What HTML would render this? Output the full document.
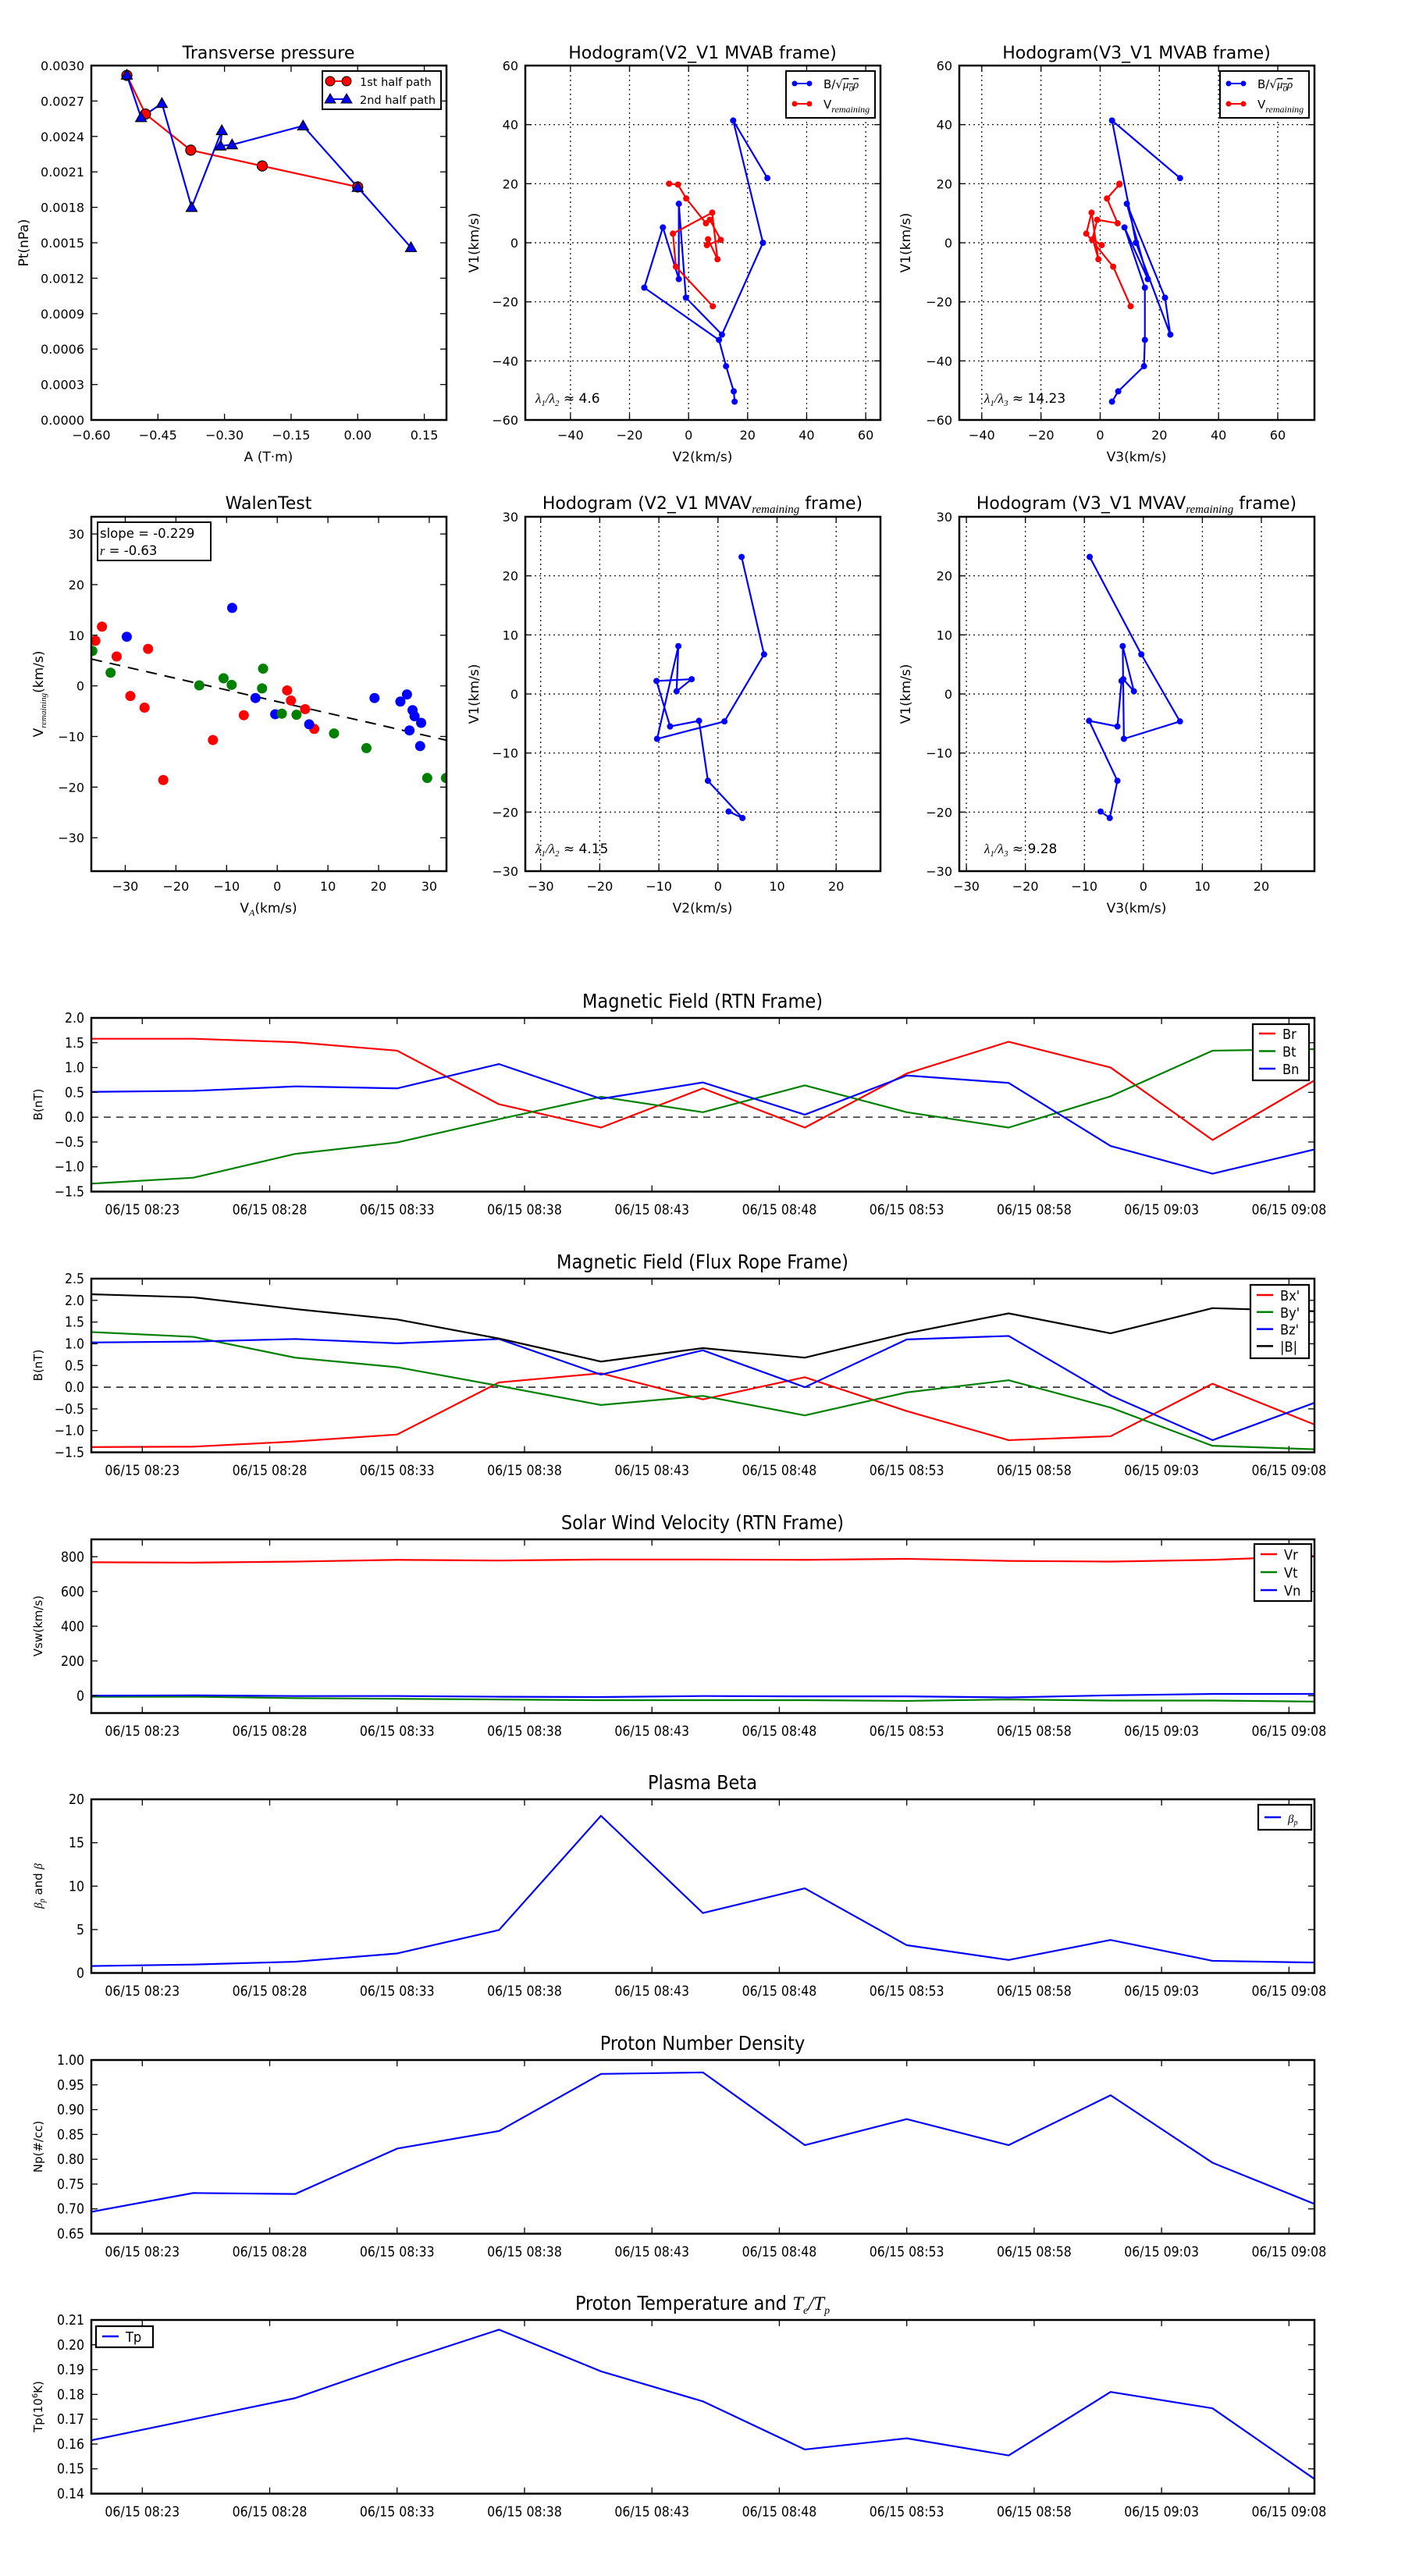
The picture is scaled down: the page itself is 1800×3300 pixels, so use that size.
<!DOCTYPE html>
<html><head><meta charset="utf-8"><title>Flux rope analysis figure</title>
<style>
html,body{margin:0;padding:0;background:#fff;}
svg{display:block;}
.n{font-family:"DejaVu Sans","Liberation Sans",sans-serif;}
.c{font-family:"Liberation Sans Narrow","DejaVu Sans Condensed","Liberation Sans",sans-serif;font-stretch:condensed;}
</style></head>
<body>
<svg id="fig" xmlns="http://www.w3.org/2000/svg" width="1800" height="3300" viewBox="0 0 1800 3300">
<rect x="0" y="0" width="1800" height="3300" fill="#fff"/>
</svg>
<script>
// ---------- DATA ----------
const ptA1=[-0.52,-0.478,-0.376,-0.215,0.0];
const ptP1=[0.002917,0.00259,0.002284,0.00215,0.001973];
const ptA2=[-0.52,-0.488,-0.441,-0.374,-0.306,-0.309,-0.283,-0.123,0.0,0.12];
const ptP2=[0.00292,0.00256,0.00268,0.0018,0.00245,0.00232,0.00233,0.00249,0.00197,0.00146];

const hbV1=[21.9,41.4,0,-31.1,-18.6,13.2,-12.3,5.2,-15.2,-32.9,-41.8,-50.3,-53.8];
const hbV2=[26.7,15.1,25.2,11.3,-0.9,-3.3,-3.3,-8.7,-15,10.3,12.7,15.3,15.6];
const hbV3=[27,4.0,12.1,23.7,21.9,9.0,16.1,8.2,15.1,15.1,14.8,6.1,4.0];
const hvV1=[-21.5,-8.1,3.1,10.2,-5.6,1.2,-0.8,1.0,7.8,6.6,15.0,19.7,20.0];
const hvV2=[8.2,-4.3,-5.3,8.0,9.8,6.6,6.2,10.9,7.2,5.9,-0.8,-3.6,-6.6];
const hvV3=[10.3,4.4,-4.7,-2.9,-0.6,-2.5,0.5,-2.7,-1.0,5.9,2.3,6.5,6.5];
const ratioLabels=['4.6','14.23','4.15','9.28'];

const walRedX=[-35.9,-34.6,-31.7,-29.0,-26.2,-25.5,-22.5,-12.7,-6.6,1.95,2.7,5.5,7.3];
const walRedY=[8.9,11.7,5.8,-2.0,-4.3,7.3,-18.6,-10.7,-5.8,-0.9,-2.9,-4.6,-8.5];
const walBlueX=[-29.7,-8.9,-4.3,-0.4,6.3,19.2,24.3,25.6,26.1,26.7,27.1,28.2,28.4];
const walBlueY=[9.7,15.4,-2.4,-5.6,-7.6,-2.4,-3.1,-1.7,-8.8,-4.8,-6.0,-11.9,-7.3];
const walGreenX=[-36.5,-32.9,-15.4,-10.6,-9.0,-2.8,-3.0,0.9,3.8,11.2,17.6,29.6,33.3];
const walGreenY=[6.9,2.6,0.1,1.5,0.2,3.4,-0.5,-5.5,-5.7,-9.4,-12.3,-18.2,-18.2];
const walFit=[-0.229,-3.1];
const walStats=['-0.229','-0.63'];

const mvV1=[23.2,6.7,-4.65,-7.6,8.1,0.45,2.5,2.2,-5.5,-4.55,-14.7,-21.0,-19.9];
const mvV2=[4.0,7.8,1.1,-10.3,-6.7,-7.0,-4.45,-10.4,-8.1,-3.2,-1.7,4.15,1.8];
const mvV3=[-9.1,-0.35,6.2,-3.3,-3.5,-1.6,-3.4,-3.7,-4.4,-9.2,-4.4,-5.7,-7.25];

const times=['08:21','08:25','08:29','08:33','08:37','08:41','08:45','08:49','08:53','08:57','09:01','09:05','09:09'];
const timeTicks=['08:23','08:28','08:33','08:38','08:43','08:48','08:53','08:58','09:03','09:08'];
const Br=[1.58,1.58,1.51,1.34,0.26,-0.21,0.58,-0.21,0.88,1.52,1.0,-0.46,0.74];
const Bt=[-1.34,-1.22,-0.74,-0.51,-0.04,0.41,0.1,0.64,0.10,-0.21,0.42,1.34,1.37];
const Bn=[0.51,0.53,0.62,0.58,1.07,0.37,0.7,0.05,0.84,0.69,-0.58,-1.14,-0.65];
const Bx=[-1.38,-1.37,-1.25,-1.09,0.11,0.32,-0.28,0.23,-0.55,-1.22,-1.13,0.08,-0.86];
const By=[1.27,1.16,0.68,0.46,0.03,-0.41,-0.2,-0.65,-0.12,0.16,-0.47,-1.35,-1.43];
const Bz=[1.03,1.05,1.11,1.01,1.11,0.29,0.85,0.0,1.10,1.18,-0.19,-1.22,-0.36];
const Bmag=[2.14,2.07,1.80,1.56,1.12,0.59,0.9,0.68,1.24,1.70,1.24,1.82,1.75];
const Vr=[768,766,772,782,778,784,784,782,788,776,772,782,804];
const Vt=[-6,-6,-14,-18,-22,-26,-26,-26,-30,-22,-28,-28,-34];
const Vn=[0,2,-2,-2,-6,-8,-2,-4,-4,-10,2,10,10];
const beta=[0.8,0.97,1.3,2.25,4.95,18.1,6.9,9.75,3.2,1.5,3.8,1.4,1.2];
const Np=[0.694,0.732,0.730,0.8215,0.857,0.972,0.975,0.8285,0.881,0.8285,0.929,0.793,0.710];
const Tp=[0.1615,0.170,0.1785,0.1927,0.2061,0.1893,0.1772,0.1578,0.1623,0.1554,0.181,0.1744,0.1459];

// ---------- HELPERS ----------
const NS='http://www.w3.org/2000/svg';
const svg=document.getElementById('fig');
let clipId=0;
function mk(tag,attrs,parent){const e=document.createElementNS(NS,tag);for(const k in attrs)e.setAttribute(k,attrs[k]);(parent||svg).appendChild(e);return e;}
function txt(s,x,y,attrs,parent){const e=mk('text',Object.assign({x:x,y:y},attrs),parent);e.innerHTML=s;return e;}
function fmtMinus(s){return String(s).replace('-','\u2212');}
function toMin(t){const p=t.split(':');return (+p[0])*60+(+p[1])-(8*60+21);}

function axes(name,L,R,T,B,xr,yr){
  const g=mk('g',{});
  
  
  const id='clip'+(clipId++);
  const cp=mk('clipPath',{id:id},g);
  mk('rect',{x:L,y:T,width:R-L,height:B-T},cp);
  const grid=mk('g',{},g);
  
  
  const data=mk('g',{'clip-path':'url(#'+id+')'},g);
  
  
  const fr=mk('g',{},g);
  const sx=v=>L+(v-xr[0])/(xr[1]-xr[0])*(R-L);
  const sy=v=>B-(v-yr[0])/(yr[1]-yr[0])*(B-T);
  return {name,g,grid,data,fr,sx,sy,L,R,T,B};
}
function frame(ax){
  const r=mk('rect',{x:ax.L,y:ax.T,width:ax.R-ax.L,height:ax.B-ax.T,fill:'none',stroke:'#000','stroke-width':2.5},ax.fr);
  
  
}
function xticks(ax,vals,labels,cls,fs,gridOn,labOff){
  vals.forEach((v,i)=>{
    const x=ax.sx(v);
    if(gridOn){mk('line',{x1:x,x2:x,y1:ax.T,y2:ax.B,stroke:'#000','stroke-width':1.2,'stroke-dasharray':'2,4'},ax.grid);}
    mk('line',{x1:x,x2:x,y1:ax.B,y2:ax.B-8,stroke:'#000','stroke-width':1.3},ax.fr);
    mk('line',{x1:x,x2:x,y1:ax.T,y2:ax.T+8,stroke:'#000','stroke-width':1.3},ax.fr);
    const t=txt(labels[i],x,ax.B+(labOff||23),{'class':cls,'font-size':fs,'text-anchor':'middle'},ax.fr);
    
    
  });
}
function yticks(ax,vals,labels,cls,fs,gridOn){
  vals.forEach((v,i)=>{
    const y=ax.sy(v);
    if(gridOn){mk('line',{x1:ax.L,x2:ax.R,y1:y,y2:y,stroke:'#000','stroke-width':1.2,'stroke-dasharray':'2,4'},ax.grid);}
    mk('line',{x1:ax.L,x2:ax.L+8,y1:y,y2:y,stroke:'#000','stroke-width':1.3},ax.fr);
    mk('line',{x1:ax.R,x2:ax.R-8,y1:y,y2:y,stroke:'#000','stroke-width':1.3},ax.fr);
    const t=txt(labels[i],ax.L-9,y+6,{'class':cls,'font-size':fs,'text-anchor':'end'},ax.fr);
    
    
  });
}
function polyline(ax,xs,ys,color,name,w){
  const pts=xs.map((x,i)=>ax.sx(x).toFixed(2)+','+ax.sy(ys[i]).toFixed(2)).join(' ');
  const p=mk('polyline',{points:pts,fill:'none',stroke:color,'stroke-width':w||2.2,'stroke-linejoin':'round'},ax.data);
  
  
}
function dots(ax,xs,ys,color,r,name,stroke){
  const g=mk('g',{},ax.data);
  
  
  xs.forEach((x,i)=>{
    const c=mk('circle',{cx:ax.sx(x),cy:ax.sy(ys[i]),r:r,fill:color,stroke:stroke||'none','stroke-width':1.2},g);
    
    
  });
}
function tris(ax,xs,ys,color,s,name){
  const g=mk('g',{},ax.data);
  
  
  xs.forEach((x,i)=>{
    const cx=ax.sx(x),cy=ax.sy(ys[i]);
    const p=mk('polygon',{points:(cx)+','+(cy-s)+' '+(cx-s)+','+(cy+s*0.75)+' '+(cx+s)+','+(cy+s*0.75),fill:color,stroke:'#000','stroke-width':1.2},g);
    
    
  });
}
function title(s,x,y,cls,fs,name){
  const t=txt(s,x,y,{'class':cls,'font-size':fs,'text-anchor':'middle'});
  
  
}
function ylabel(s,x,y,cls,fs,name){
  const t=txt(s,x,y,{'class':cls,'font-size':fs,'text-anchor':'middle',transform:'rotate(-90 '+x+' '+y+')'});
  
  
}
function range(a,b,s){const r=[];for(let v=a;v<=b+1e-9;v+=s)r.push(+v.toFixed(6));return r;}

const sqrtLbl='B/\u221A<tspan font-family="Liberation Serif" font-style="italic" text-decoration="overline">\u03BC<tspan font-size="11" dy="4">0</tspan><tspan dy="-4">\u03C1</tspan></tspan>';
const vremLbl='V<tspan font-family="Liberation Serif" font-style="italic" font-size="12" dy="5">remaining</tspan>';

// ---------- ROW 1 ----------
// Transverse pressure
(function(){
  const ax=axes('transverse-pressure-chart',117,572,84,538,[-0.6,0.2],[0,0.003]);
  polyline(ax,ptA1,ptP1,'#f00','first-half-path-line',2.2);
  polyline(ax,ptA2,ptP2,'#00f','second-half-path-line',2.2);
  dots(ax,ptA1,ptP1,'#f00',6.5,'first-half-path-markers','#000');
  tris(ax,ptA2,ptP2,'#00f',7,'second-half-path-markers');
  frame(ax);
  const xv=range(-0.6,0.15,0.15);
  xticks(ax,xv,xv.map(v=>fmtMinus(v.toFixed(2))),'n',16,false,25);
  const yv=range(0,0.003,0.0003);
  yticks(ax,yv,yv.map(v=>v.toFixed(4)),'n',16,false);
  title('Transverse pressure',344,75,'n',22,'transverse-pressure-title');
  title('A (T\u00B7m)',344,591,'n',17,'transverse-x-axis-title');
  ylabel('Pt(nPa)',36,311,'n',17,'transverse-y-axis-title');
  const lg=mk('g',{});
  
  
  mk('rect',{x:413,y:91,width:152,height:49,fill:'#fff',stroke:'#000','stroke-width':2},lg);
  mk('line',{x1:423,x2:444,y1:104,y2:104,stroke:'#f00','stroke-width':2},lg);
  mk('circle',{cx:423,cy:104,r:6,fill:'#f00',stroke:'#000'},lg);
  mk('circle',{cx:444,cy:104,r:6,fill:'#f00',stroke:'#000'},lg);
  txt('1st half path',461,110,{'class':'n','font-size':14.5},lg);
  mk('line',{x1:423,x2:444,y1:127,y2:127,stroke:'#00f','stroke-width':2},lg);
  mk('polygon',{points:'423,120 416,132 430,132',fill:'#00f',stroke:'#000'},lg);
  mk('polygon',{points:'444,120 437,132 451,132',fill:'#00f',stroke:'#000'},lg);
  txt('2nd half path',461,133,{'class':'n','font-size':14.5},lg);
})();

function hodoLegend(x,name){
  const lg=mk('g',{});
  
  
  mk('rect',{x:x,y:91,width:114,height:60,fill:'#fff',stroke:'#000','stroke-width':2},lg);
  mk('line',{x1:x+11,x2:x+30,y1:107,y2:107,stroke:'#00f','stroke-width':2},lg);
  mk('circle',{cx:x+11,cy:107,r:3.5,fill:'#00f'},lg);mk('circle',{cx:x+30,cy:107,r:3.5,fill:'#00f'},lg);
  txt(sqrtLbl,x+48,113,{'class':'n','font-size':15},lg);
  mk('line',{x1:x+11,x2:x+30,y1:133,y2:133,stroke:'#f00','stroke-width':2},lg);
  mk('circle',{cx:x+11,cy:133,r:3.5,fill:'#f00'},lg);mk('circle',{cx:x+30,cy:133,r:3.5,fill:'#f00'},lg);
  txt(vremLbl,x+48,139,{'class':'n','font-size':15},lg);
}
function ratioText(s,x,y,sub,name){
  const t=txt('<tspan font-family="Liberation Serif" font-style="italic">\u03BB<tspan font-size="11" dy="4">1</tspan><tspan dy="-4">/\u03BB</tspan><tspan font-size="11" dy="4">'+sub+'</tspan></tspan><tspan dy="-4"> \u2248 '+s+'</tspan>',x,y,{'class':'n','font-size':17});
  
  
}
// Hodogram V2-V1 MVAB
(function(){
  const ax=axes('hodogram-v2-v1-mvab',673,1128,84,538,[-55.3,65],[-60,60]);
  const xv=range(-40,60,20),yv=range(-60,60,20);
  xticks(ax,xv,xv.map(v=>fmtMinus(v)),'n',16,true,25);
  yticks(ax,yv,yv.map(v=>fmtMinus(v)),'n',16,true);
  polyline(ax,hbV2,hbV1,'#00f','b-alfven-line',2.2);
  dots(ax,hbV2,hbV1,'#00f',4,'b-alfven-points');
  polyline(ax,hvV2,hvV1,'#f00','v-remaining-line',2.2);
  dots(ax,hvV2,hvV1,'#f00',4,'v-remaining-points');
  frame(ax);
  title('Hodogram(V2_V1 MVAB frame)',900,75,'n',22,'hodogram-v2-v1-mvab-title');
  title('V2(km/s)',900,591,'n',17,'hodogram-v2-v1-mvab-x-axis-title');
  ylabel('V1(km/s)',613,311,'n',17,'hodogram-v2-v1-mvab-y-axis-title');
  hodoLegend(1007,'hodogram-v2-v1-mvab-legend');
  ratioText(ratioLabels[0],686,516,'2','hodogram-v2-v1-mvab-eigen-ratio');
})();
// Hodogram V3-V1 MVAB
(function(){
  const ax=axes('hodogram-v3-v1-mvab',1229,1684,84,538,[-47.6,72.4],[-60,60]);
  const xv=range(-40,60,20),yv=range(-60,60,20);
  xticks(ax,xv,xv.map(v=>fmtMinus(v)),'n',16,true,25);
  yticks(ax,yv,yv.map(v=>fmtMinus(v)),'n',16,true);
  polyline(ax,hbV3,hbV1,'#00f','b-alfven-line',2.2);
  dots(ax,hbV3,hbV1,'#00f',4,'b-alfven-points');
  polyline(ax,hvV3,hvV1,'#f00','v-remaining-line',2.2);
  dots(ax,hvV3,hvV1,'#f00',4,'v-remaining-points');
  frame(ax);
  title('Hodogram(V3_V1 MVAB frame)',1456,75,'n',22,'hodogram-v3-v1-mvab-title');
  title('V3(km/s)',1456,591,'n',17,'hodogram-v3-v1-mvab-x-axis-title');
  ylabel('V1(km/s)',1166,311,'n',17,'hodogram-v3-v1-mvab-y-axis-title');
  hodoLegend(1563,'hodogram-v3-v1-mvab-legend');
  ratioText(ratioLabels[1],1261,516,'3','hodogram-v3-v1-mvab-eigen-ratio');
})();

// ---------- ROW 2 ----------
(function(){
  const ax=axes('walen-test-chart',117,572,662,1116,[-36.7,33.4],[-36.6,33.4]);
  const xv=range(-30,30,10),yv=range(-30,30,10);
  const fx=[-36.7,33.4],fy=fx.map(x=>walFit[0]*x+walFit[1]);
  const fl=mk('line',{x1:ax.sx(fx[0]),y1:ax.sy(fy[0]),x2:ax.sx(fx[1]),y2:ax.sy(fy[1]),stroke:'#000','stroke-width':2,'stroke-dasharray':'14,10'},ax.data);
  
  
  dots(ax,walRedX,walRedY,'#f00',6.5,'walen-red-points');
  dots(ax,walBlueX,walBlueY,'#00f',6.5,'walen-blue-points');
  dots(ax,walGreenX,walGreenY,'#008000',6.5,'walen-green-points');
  frame(ax);
  xticks(ax,xv,xv.map(v=>fmtMinus(v)),'n',16,false,25);
  yticks(ax,yv,yv.map(v=>fmtMinus(v)),'n',16,false);
  title('WalenTest',344,652,'n',22,'walen-test-title');
  title('V<tspan font-family="Liberation Serif" font-style="italic" font-size="12" dy="4">A</tspan><tspan dy="-4">(km/s)</tspan>',344,1169,'n',17,'walen-x-axis-title');
  ylabel('V<tspan font-family="Liberation Serif" font-style="italic" font-size="11" dy="4">remaining</tspan><tspan dy="-4">(km/s)</tspan>',55,889,'n',17,'walen-y-axis-title');
  const bx=mk('g',{});
  
  
  mk('rect',{x:125,y:669,width:145,height:49,fill:'#fff',stroke:'#000','stroke-width':2},bx);
  txt('slope = '+walStats[0],128,689,{'class':'n','font-size':16.5},bx);
  txt('<tspan font-family="Liberation Serif" font-style="italic">r</tspan> = '+walStats[1],128,711,{'class':'n','font-size':16.5},bx);
})();
(function(){
  const ax=axes('hodogram-v2-v1-mvav',673,1128,662,1116,[-32.6,27.5],[-30,30]);
  const xv=range(-30,20,10),yv=range(-30,30,10);
  xticks(ax,xv,xv.map(v=>fmtMinus(v)),'n',16,true,25);
  yticks(ax,yv,yv.map(v=>fmtMinus(v)),'n',16,true);
  polyline(ax,mvV2,mvV1,'#00f','mvav-line',2.2);
  dots(ax,mvV2,mvV1,'#00f',4,'mvav-points');
  frame(ax);
  title('Hodogram (V2_V1 MVAV<tspan font-family="Liberation Serif" font-style="italic" font-size="15" dy="5">remaining</tspan><tspan dy="-5"> frame)</tspan>',900,652,'n',22,'hodogram-v2-v1-mvav-title');
  title('V2(km/s)',900,1169,'n',17,'hodogram-v2-v1-mvav-x-axis-title');
  ylabel('V1(km/s)',613,889,'n',17,'hodogram-v2-v1-mvav-y-axis-title');
  ratioText(ratioLabels[2],686,1093,'2','hodogram-v2-v1-mvav-eigen-ratio');
})();
(function(){
  const ax=axes('hodogram-v3-v1-mvav',1229,1684,662,1116,[-31.2,29],[-30,30]);
  const xv=range(-30,20,10),yv=range(-30,30,10);
  xticks(ax,xv,xv.map(v=>fmtMinus(v)),'n',16,true,25);
  yticks(ax,yv,yv.map(v=>fmtMinus(v)),'n',16,true);
  polyline(ax,mvV3,mvV1,'#00f','mvav-line',2.2);
  dots(ax,mvV3,mvV1,'#00f',4,'mvav-points');
  frame(ax);
  title('Hodogram (V3_V1 MVAV<tspan font-family="Liberation Serif" font-style="italic" font-size="15" dy="5">remaining</tspan><tspan dy="-5"> frame)</tspan>',1456,652,'n',22,'hodogram-v3-v1-mvav-title');
  title('V3(km/s)',1456,1169,'n',17,'hodogram-v3-v1-mvav-x-axis-title');
  ylabel('V1(km/s)',1166,889,'n',17,'hodogram-v3-v1-mvav-y-axis-title');
  ratioText(ratioLabels[3],1261,1093,'3','hodogram-v3-v1-mvav-eigen-ratio');
})();

// ---------- TIME SERIES ----------
const tx=times.map(toMin);
const tickX=timeTicks.map(toMin);
function tsPanel(name,T,yr,yv,ylab,ttl,ylbl,series,legend,zero){
  const ax=axes(name,117,1684,T,T+222.5,[0,48],yr);
  if(zero){
    const z=mk('line',{x1:ax.L,x2:ax.R,y1:ax.sy(0),y2:ax.sy(0),stroke:'#000','stroke-width':1.3,'stroke-dasharray':'9,7'},ax.data);
    
    
  }
  series.forEach(s=>polyline(ax,tx,s.v,s.c,name+'-'+s.n+'-line',2.2));
  frame(ax);
  xticks(ax,tickX,timeTicks.map(t=>'06/15 '+t),'c',17.5,false,29);
  yticks(ax,yv,ylab,'c',17.5,false);
  title(ttl,900,T-13,'c',25,name+'-title');
  ylabel(ylbl,54,T+111,'n',15,name+'-y-axis-title');
  if(legend){
    const lg=mk('g',{});
    
    
    mk('rect',{x:legend.x,y:legend.y,width:legend.w,height:legend.h,fill:'#fff',stroke:'#000','stroke-width':2.2},lg);
    legend.items.forEach((it,i)=>{
      const yy=legend.y+legend.first+i*legend.step;
      mk('line',{x1:legend.x+8,x2:legend.x+29,y1:yy,y2:yy,stroke:it.c,'stroke-width':2.5},lg);
      txt(it.t,legend.x+38,yy+7,{'class':'c','font-size':18},lg);
    });
  }
  return ax;
}
tsPanel('magnetic-field-rtn',1304,[-1.5,2.0],range(-1.5,2.0,0.5),range(-1.5,2.0,0.5).map(v=>fmtMinus(v.toFixed(1))),'Magnetic Field (RTN Frame)','B(nT)',
  [{n:'br',v:Br,c:'#f00'},{n:'bt',v:Bt,c:'#008000'},{n:'bn',v:Bn,c:'#00f'}],
  {x:1605,y:1312,w:72,h:72,first:12,step:22.5,items:[{t:'Br',c:'#f00'},{t:'Bt',c:'#008000'},{t:'Bn',c:'#00f'}]},true);
tsPanel('magnetic-field-flux-rope',1638,[-1.5,2.5],range(-1.5,2.5,0.5),range(-1.5,2.5,0.5).map(v=>fmtMinus(v.toFixed(1))),'Magnetic Field (Flux Rope Frame)','B(nT)',
  [{n:'bx',v:Bx,c:'#f00'},{n:'by',v:By,c:'#008000'},{n:'bz',v:Bz,c:'#00f'},{n:'bmag',v:Bmag,c:'#000'}],
  {x:1602,y:1646,w:75,h:94,first:13,step:21.8,items:[{t:"Bx'",c:'#f00'},{t:"By'",c:'#008000'},{t:"Bz'",c:'#00f'},{t:'|B|',c:'#000'}]},true);
tsPanel('solar-wind-velocity',1972,[-100,900],range(0,800,200),range(0,800,200).map(v=>String(v)),'Solar Wind Velocity (RTN Frame)','Vsw(km/s)',
  [{n:'vr',v:Vr,c:'#f00'},{n:'vt',v:Vt,c:'#008000'},{n:'vn',v:Vn,c:'#00f'}],
  {x:1607,y:1978,w:73,h:73,first:13,step:23,items:[{t:'Vr',c:'#f00'},{t:'Vt',c:'#008000'},{t:'Vn',c:'#00f'}]},false);
tsPanel('plasma-beta',2305,[0,20],range(0,20,5),range(0,20,5).map(v=>String(v)),'Plasma Beta','<tspan font-family="Liberation Serif" font-style="italic">\u03B2<tspan font-size="10" dy="3">p</tspan></tspan><tspan dy="-3"> and </tspan><tspan font-family="Liberation Serif" font-style="italic">\u03B2</tspan>',
  [{n:'beta-p',v:beta,c:'#00f'}],
  {x:1612,y:2312,w:68,h:32,first:16,step:20,items:[{t:'<tspan font-family="Liberation Serif" font-style="italic" font-size="15">\u03B2<tspan font-size="10" dy="3">p</tspan></tspan>',c:'#00f'}]},false);
tsPanel('proton-number-density',2639,[0.65,1.0],range(0.65,1.0,0.05),range(0.65,1.0,0.05).map(v=>v.toFixed(2)),'Proton Number Density','Np(#/cc)',
  [{n:'np',v:Np,c:'#00f'}],null,false);
tsPanel('proton-temperature',2972,[0.14,0.21],range(0.14,0.21,0.01),range(0.14,0.21,0.01).map(v=>v.toFixed(2)),'Proton Temperature and <tspan font-family="Liberation Serif" font-style="italic">T<tspan font-size="14" dy="5">e</tspan><tspan dy="-5">/T</tspan><tspan font-size="14" dy="5">p</tspan></tspan>','Tp(10<tspan font-size="10" dy="-6">6</tspan><tspan dy="6">K)</tspan>',
  [{n:'tp',v:Tp,c:'#00f'}],
  {x:123,y:2980,w:73,h:27,first:13,step:20,items:[{t:'Tp',c:'#00f'}]},false);
</script>
</body></html>
